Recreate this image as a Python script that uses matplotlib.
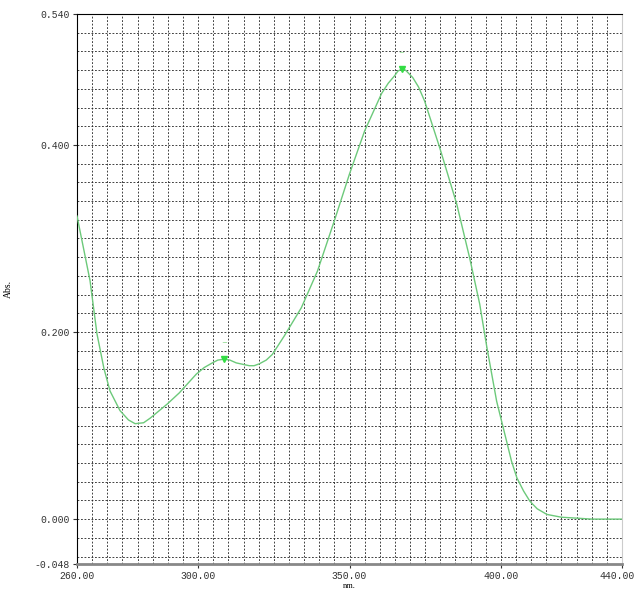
import numpy as np
import matplotlib
matplotlib.use("Agg")
import matplotlib.pyplot as plt
import matplotlib.transforms as mtransforms

# spectrum
wavelength = [260.0, 262.0, 264.3, 266.6, 268.9, 270.9, 274.2, 277.0, 279.2, 282.0,
              284.2, 289.8, 293.8, 299.4, 302.0, 304.7, 306.5, 308.6, 310.5, 312.6,
              316.9, 318.5, 320.2, 322.5, 324.5, 328.5, 334.1, 339.4, 345.0, 350.0,
              355.0, 360.6, 362.8, 364.9, 366.0, 367.2, 368.5, 370.9, 372.8, 374.8,
              379.8, 385.4, 389.7, 393.0, 395.3, 398.6, 401.9, 403.5, 405.3, 407.5,
              409.6, 412.0, 415.2, 420.0, 425.1, 430.0, 440.0]
absorbance = [0.324, 0.292, 0.255, 0.198, 0.161, 0.137, 0.116, 0.106, 0.102, 0.103,
              0.108, 0.123, 0.135, 0.155, 0.162, 0.167, 0.170, 0.171, 0.170, 0.167,
              0.164, 0.164, 0.166, 0.170, 0.176, 0.196, 0.226, 0.265, 0.319, 0.369,
              0.415, 0.455, 0.466, 0.474, 0.479, 0.481, 0.480, 0.472, 0.462, 0.447,
              0.397, 0.337, 0.279, 0.230, 0.185, 0.126, 0.083, 0.062, 0.044, 0.030,
              0.019, 0.011, 0.005, 0.002, 0.001, 0.000, 0.000]
peak_x = [308.6, 367.2]
peak_y = [0.171, 0.481]

xticks = [260, 300, 350, 400, 440]
yticks = [-0.048, 0.0, 0.2, 0.4, 0.54]

fig = plt.figure(figsize=(6.36, 5.89), dpi=100)
ax = fig.add_axes([77/636, 25/589, 545/636, 550/589])

ax.set_xlim(260, 440)
ax.set_ylim(-0.048, 0.540)

# dotted grid
for gx in np.arange(265, 440, 5):
    ax.axvline(gx, color="#222222", lw=0.6, ls=(0, (2.2, 2.0)), zorder=1)
for gy in np.arange(-0.04, 0.535, 0.02):
    ax.axhline(gy, color="#222222", lw=0.6, ls=(0, (2.2, 2.0)), zorder=1)

ax.plot(wavelength, absorbance, color="#6cc97a", lw=1.0, zorder=3)
ax.plot(peak_x, peak_y, ls="none", marker="v", ms=4, color="#33dd44", zorder=4)
for px, py in zip(peak_x, peak_y):
    ax.text(px, py + 0.014, "~", color="#66cc66", fontsize=5, ha="center", va="bottom")

ax.set_xticks(xticks)
ax.set_xticklabels(["%.2f" % v for v in xticks], fontfamily="Liberation Mono", fontsize=7)
ax.set_yticks(yticks)
ax.set_yticklabels(["%.3f" % v for v in yticks], fontfamily="Liberation Mono", fontsize=7)
ax.tick_params(axis="both", length=3, width=0.8, colors="#333333", pad=2)

# last x label sits against the right edge of the picture
last = ax.get_xticklabels()[-1]
last.set_ha("right")
last.set_transform(last.get_transform() + mtransforms.ScaledTranslation(13/100, 0, fig.dpi_scale_trans))

ax.spines["left"].set_color("black")
ax.spines["top"].set_color("black")
ax.spines["bottom"].set_color("#888888")
ax.spines["bottom"].set_linewidth(2)
ax.spines["right"].set_color("#cccccc")

ax.set_xlabel("nm.", fontfamily="Liberation Serif", fontsize=6, labelpad=1)
ax.set_ylabel("Abs.", fontfamily="Liberation Serif", fontsize=7)
ax.yaxis.set_label_coords(-0.118, 0.5)

fig.savefig("out.png", dpi=100)
